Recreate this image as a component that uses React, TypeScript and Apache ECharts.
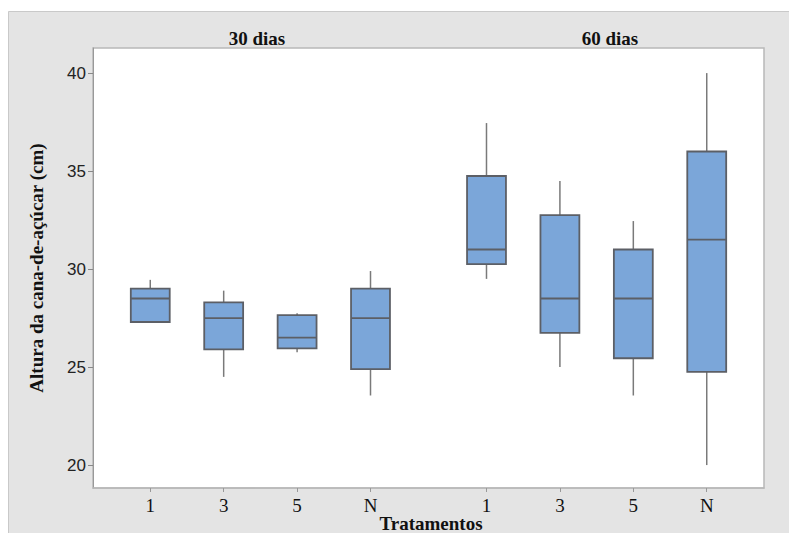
import React, { useEffect, useRef } from "react";
import * as echarts from "echarts";

const groups = ["30 dias", "60 dias"];
const treatments = ["1", "3", "5", "N"];
// [min, Q1, median, Q3, max] per group, per treatment
const stats30 = [
  [27.3, 27.3, 28.5, 29.0, 29.45],
  [24.5, 25.9, 27.5, 28.3, 28.9],
  [25.75, 25.95, 26.5, 27.65, 27.75],
  [23.55, 24.9, 27.5, 29.0, 29.9],
];
const stats60 = [
  [29.5, 30.25, 31.0, 34.75, 37.45],
  [25.0, 26.75, 28.5, 32.75, 34.5],
  [23.55, 25.45, 28.5, 31.0, 32.45],
  [20.0, 24.75, 31.5, 36.0, 40.0],
];
const yTicks = [20, 25, 30, 35, 40];
const xTitle = "Tratamentos";
const yTitle = "Altura da cana-de-açúcar (cm)";
const groupGap = 1.58; // spacing between the last box of a group and the first of the next

export default function App() {
  const ref = useRef<HTMLDivElement>(null);
  useEffect(() => {
    document.body.style.margin = "0";
    if (!ref.current) return;
    const chart = echarts.init(ref.current, null, { renderer: "svg" });
    const allStats = [stats30, stats60];
    const positions: number[] = [];
    const labelMap: Record<string, string> = {};
    const data: number[][] = [];
    allStats.forEach((g, gi) => {
      g.forEach((s, ti) => {
        const pos = 1 + ti + gi * (treatments.length - 1 + groupGap);
        const p = Math.round(pos * 100) / 100;
        positions.push(p);
        labelMap[String(p)] = treatments[ti];
        data.push([p, ...s]);
      });
    });
    const serif = "'Liberation Serif', 'Times New Roman', serif";
    chart.setOption({
      animation: false,
      backgroundColor: "#ffffff",
      graphic: [
        {
          type: "rect",
          shape: { x: 8.5, y: 11.5, width: 800, height: 540 },
          style: { fill: "#e4e4e4", stroke: "#c9c9c9", lineWidth: 1 },
          z: -10,
          silent: true,
        },
        {
          type: "text",
          x: 257,
          y: 38,
          style: { text: groups[0], font: `bold 19px ${serif}`, fill: "#111", align: "center", verticalAlign: "middle" },
        },
        {
          type: "text",
          x: 610,
          y: 38,
          style: { text: groups[1], font: `bold 19px ${serif}`, fill: "#111", align: "center", verticalAlign: "middle" },
        },
        {
          type: "text",
          x: 431,
          y: 523,
          style: { text: xTitle, font: `bold 19px ${serif}`, fill: "#111", align: "center", verticalAlign: "middle" },
        },
      ],
      grid: {
        left: 93,
        right: 25,
        top: 48,
        bottom: 45,
        outerBoundsMode: "none",
        containLabel: false,
        show: true,
        backgroundColor: "#ffffff",
        borderColor: "#b8b8b8",
        borderWidth: 1.5,
      },
      xAxis: {
        type: "value",
        min: 0.22,
        max: 9.36,
        axisLine: { show: true, lineStyle: { color: "#b8b8b8", width: 1.5 } },
        splitLine: { show: false },
        axisTick: { show: true, customValues: positions, length: 4, lineStyle: { color: "#999" } },
        axisLabel: {
          customValues: positions,
          formatter: (v: number) => labelMap[String(Math.round(v * 100) / 100)] ?? "",
          fontFamily: serif,
          fontSize: 19,
          color: "#111",
          margin: 8,
        },
      },
      yAxis: {
        type: "value",
        min: 18.83,
        max: 41.28,
        name: yTitle,
        nameLocation: "middle",
        nameGap: 47,
        nameTextStyle: { fontFamily: serif, fontWeight: "bold", fontSize: 19, color: "#111" },
        axisLine: { show: true, lineStyle: { color: "#999", width: 1 } },
        splitLine: { show: false },
        axisTick: { show: true, customValues: yTicks, length: 5, lineStyle: { color: "#888" } },
        axisLabel: {
          customValues: yTicks,
          fontFamily: "'Liberation Sans', Arial, sans-serif",
          fontSize: 17,
          color: "#222",
          margin: 7,
        },
      },
      series: [
        {
          type: "custom",
          data,
          encode: { x: 0, y: [1, 2, 3, 4, 5] },
          renderItem: (params: any, api: any) => {
            const x = api.value(0);
            const mn = api.coord([x, api.value(1)]);
            const q1 = api.coord([x, api.value(2)]);
            const md = api.coord([x, api.value(3)]);
            const q3 = api.coord([x, api.value(4)]);
            const mx = api.coord([x, api.value(5)]);
            const half = api.size([0.53, 0])[0] / 2;
            const cx = mn[0];
            return {
              type: "group",
              children: [
                {
                  type: "line",
                  shape: { x1: cx, y1: q3[1], x2: cx, y2: mx[1] },
                  style: { stroke: "#7a7a7a", lineWidth: 1.5 },
                },
                {
                  type: "line",
                  shape: { x1: cx, y1: q1[1], x2: cx, y2: mn[1] },
                  style: { stroke: "#7a7a7a", lineWidth: 1.5 },
                },
                {
                  type: "rect",
                  shape: { x: cx - half, y: q3[1], width: half * 2, height: q1[1] - q3[1] },
                  style: { fill: "#7ba6d9", stroke: "#5c5f66", lineWidth: 1.8 },
                },
                {
                  type: "line",
                  shape: { x1: cx - half, y1: md[1], x2: cx + half, y2: md[1] },
                  style: { stroke: "#5c5f66", lineWidth: 1.8 },
                },
              ],
            };
          },
        },
      ],
    });
    return () => chart.dispose();
  }, []);
  return <div ref={ref} style={{ width: 789, height: 533 }} />;
}
